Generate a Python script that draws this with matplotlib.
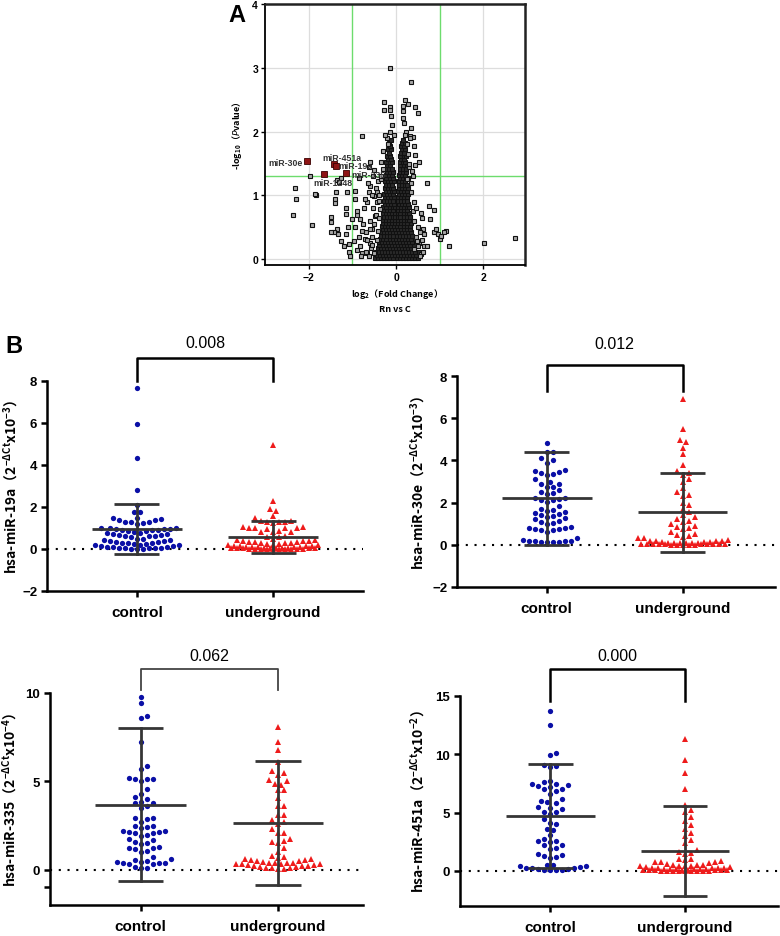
import numpy as np
import matplotlib
matplotlib.use('Agg')
import matplotlib.pyplot as plt

plt.rcParams['font.family'] = ['Liberation Sans', 'Noto Sans CJK SC', 'DejaVu Sans']
plt.rcParams['mathtext.default'] = 'regular'

CJK = ['Noto Sans CJK SC', 'DejaVu Sans']

# ---------------- panel A: volcano plot ----------------
# scattered points outside the dense core (log2 FC, -log10 P)
sparse_x = [-0.145, 0.35, -0.28, 0.21, 0.27, 0.43, 0.5, -0.14, -0.13, -0.27, -0.11,
            0.15, 0.16, 0.16, 0.18, 0.34, 0.39, 0.31, -0.78, 0.52, 0.71, -1.97,
            -2.32, -2.3, -2.35, -1.92, -1.84, -1.86, -1.36, -1.26, -1.3, -1.38,
            -1.4, -1.39, -1.48, -1.48, -1.36, -1.32, -1.12, -0.95, -0.85, -0.95,
            -1.14, -1.14, -1.0, -1.1, -1.14, -1.08, -1.08, -0.97, -1.06, -1.25,
            -1.2, -1.42, -1.48, -0.89, -0.82, -0.66, -0.74, -0.78, -0.72, -0.82,
            -0.79, -0.66, -0.6, -0.55, -0.49, -0.43, -0.6, -0.53,
            0.57, 0.59, 0.62, 0.54, 0.75, 0.77, 0.86, 0.86, 0.92, 0.97, 1.01,
            1.03, 1.15, 1.21, 1.09, 2.02, 2.71, 0.52, 0.63, 0.56, 0.42, 0.4,
            0.44, 0.25, 0.37, 0.3, 0.43,
            -0.3, -0.34, -0.5, -0.62, -0.42, -0.34, -0.59, -0.51, -0.43, -0.36, -0.62,
            -0.62, -0.7, -0.58, -0.66, -0.55, -0.5, -0.6, -0.45, -0.52, -0.4, -0.38,
            -0.46, -0.35, -0.4, -0.75, -0.85, -0.9, -0.8, -0.95, -0.7, -0.6, -0.55,
            -0.5, -0.44, -0.42, -0.9, -0.72, -0.55, -0.65,
            0.55, 0.62, 0.5, 0.6, 0.45, 0.5, 0.42, 0.38, 0.4, 0.35, 0.33, 0.3, 0.28,
            0.25, 0.7, 0.48, 0.65, 0.45, 0.38, 0.32, 0.22, 0.2,
            -0.2, -0.15, -0.1, -0.25, -0.3, -0.05, -0.18]
sparse_y = [3.0, 2.77, 2.47, 2.49, 2.44, 2.39, 2.29, 2.39, 2.34, 2.34, 2.25,
            2.4, 2.32, 2.21, 2.13, 2.06, 1.92, 1.93, 1.93, 1.53, 1.19, 1.31,
            1.11, 0.94, 0.7, 0.53, 1.0, 1.02, 1.24, 1.28, 1.21, 1.06,
            0.94, 0.88, 0.67, 0.59, 0.47, 0.4, 1.06, 1.07, 1.27, 0.94,
            0.81, 0.71, 0.63, 0.51, 0.4, 0.24, 0.12, 0.29, 0.05, 0.28,
            0.21, 0.42, 0.43, 0.69, 0.63, 0.89, 0.81, 0.44, 0.31, 0.21,
            0.1, 0.1, 0.26, 0.47, 0.68, 1.06, 1.53, 1.31,
            0.73, 0.65, 0.47, 0.42, 0.84, 0.63, 0.77, 0.43, 0.48, 0.39, 0.31,
            0.36, 0.45, 0.21, 0.43, 0.26, 0.33, 0.26, 0.21, 0.08, 0.16, 1.78,
            1.63, 1.25, 1.39, 1.44, 1.48,
            1.41, 1.52, 1.4, 1.44, 1.23, 1.25, 1.15, 0.99, 0.89, 0.78, 1.05,
            0.05, 0.12, 0.18, 0.3, 0.35, 0.55, 0.6, 0.7, 0.8, 0.92, 1.0,
            1.12, 1.3, 0.65, 0.55, 0.35, 0.15, 0.05, 0.5, 0.42, 0.48, 0.22,
            0.1, 0.3, 0.45, 0.75, 0.95, 1.0, 1.2,
            0.05, 0.12, 0.2, 0.3, 0.35, 0.5, 0.6, 0.75, 0.9, 1.05, 1.2, 1.5, 1.65,
            1.8, 0.2, 0.28, 0.4, 0.8, 1.3, 1.9, 2.0, 1.95,
            1.9, 2.0, 2.1, 1.95, 1.7, 1.95, 1.8]

# dense core, listed row by row: (-log10 P, [log2 FC ...])
core_rows = [
    (0.02, [-0.48, -0.41, -0.34, -0.27, -0.2, -0.13, -0.06, 0.01, 0.08, 0.15, 0.22, 0.29, 0.36, 0.43, 0.5]),
    (0.07, [-0.44, -0.37, -0.3, -0.23, -0.16, -0.09, -0.03, 0.04, 0.11, 0.18, 0.25, 0.32, 0.39, 0.46]),
    (0.12, [-0.47, -0.39, -0.32, -0.25, -0.18, -0.11, -0.05, 0.02, 0.09, 0.16, 0.23, 0.3, 0.37, 0.44, 0.52]),
    (0.17, [-0.42, -0.35, -0.28, -0.21, -0.14, -0.07, 0.0, 0.07, 0.14, 0.21, 0.28, 0.35, 0.42]),
    (0.22, [-0.38, -0.31, -0.24, -0.17, -0.1, -0.03, 0.04, 0.11, 0.18, 0.25, 0.32, 0.4]),
    (0.27, [-0.4, -0.33, -0.26, -0.19, -0.12, -0.05, 0.02, 0.09, 0.16, 0.23, 0.3, 0.37]),
    (0.32, [-0.36, -0.29, -0.22, -0.15, -0.08, -0.01, 0.06, 0.13, 0.2, 0.27, 0.34]),
    (0.37, [-0.34, -0.27, -0.2, -0.13, -0.06, 0.01, 0.08, 0.15, 0.22, 0.29, 0.36]),
    (0.42, [-0.35, -0.28, -0.21, -0.14, -0.07, 0.0, 0.07, 0.14, 0.21, 0.28, 0.33]),
    (0.47, [-0.31, -0.24, -0.17, -0.1, -0.03, 0.04, 0.11, 0.18, 0.25, 0.32]),
    (0.52, [-0.33, -0.26, -0.19, -0.12, -0.05, 0.03, 0.1, 0.17, 0.24, 0.31]),
    (0.57, [-0.3, -0.23, -0.16, -0.09, -0.02, 0.05, 0.12, 0.19, 0.26, 0.33]),
    (0.62, [-0.31, -0.24, -0.17, -0.1, -0.03, 0.04, 0.11, 0.18, 0.25, 0.3]),
    (0.67, [-0.28, -0.21, -0.14, -0.07, -0.02, 0.04, 0.1, 0.17, 0.24, 0.31]),
    (0.72, [-0.3, -0.23, -0.16, -0.09, -0.03, 0.04, 0.1, 0.17, 0.24, 0.29]),
    (0.77, [-0.27, -0.2, -0.13, -0.06, 0.05, 0.12, 0.19, 0.26]),
    (0.82, [-0.29, -0.22, -0.15, -0.08, -0.03, 0.04, 0.11, 0.18, 0.25, 0.3]),
    (0.87, [-0.26, -0.19, -0.12, -0.05, 0.06, 0.13, 0.2, 0.27]),
    (0.92, [-0.28, -0.21, -0.14, -0.07, 0.04, 0.11, 0.18, 0.25]),
    (0.97, [-0.25, -0.18, -0.11, -0.04, 0.05, 0.12, 0.19, 0.26]),
    (1.02, [-0.27, -0.2, -0.13, -0.06, 0.06, 0.13, 0.2, 0.27]),
    (1.07, [-0.24, -0.17, -0.1, -0.04, 0.05, 0.12, 0.19, 0.25]),
    (1.12, [-0.26, -0.19, -0.12, -0.06, 0.07, 0.14, 0.21, 0.27]),
    (1.17, [-0.23, -0.16, -0.09, 0.06, 0.13, 0.2, 0.26]),
    (1.22, [-0.25, -0.18, -0.11, -0.05, 0.07, 0.14, 0.21]),
    (1.27, [-0.22, -0.15, -0.08, 0.08, 0.15, 0.22, 0.28]),
    (1.32, [-0.24, -0.17, -0.1, 0.07, 0.14, 0.21]),
    (1.37, [-0.21, -0.14, -0.07, 0.09, 0.16, 0.23]),
    (1.42, [-0.23, -0.16, -0.09, 0.08, 0.15, 0.22]),
    (1.47, [-0.2, -0.13, 0.1, 0.17, 0.24]),
    (1.52, [-0.22, -0.15, -0.09, 0.09, 0.16, 0.21]),
    (1.57, [-0.18, -0.11, 0.11, 0.18]),
    (1.62, [-0.2, -0.13, 0.1, 0.17, 0.23]),
    (1.67, [-0.16, 0.12, 0.19]),
    (1.72, [-0.18, -0.11, 0.14, 0.2]),
    (1.77, [-0.14, 0.11, 0.17]),
    (1.82, [-0.16, 0.13, 0.2]),
    (1.87, [-0.12, 0.15]),
]

hit_names = ['miR-30e', 'miR-451a', 'miR-19a', 'miR-335', 'miR-1248']
hit_x = [-2.03, -1.42, -1.37, -1.15, -1.64]
hit_y = [1.54, 1.5, 1.46, 1.35, 1.33]

# ---------------- panel B: scatter dot plots ----------------
groups = ['control', 'underground']
pvalues = ['0.008', '0.012', '0.062', '0.000']

mir19a_control = [7.65, 5.95, 4.35, 2.82, 2.1, 1.75, 1.75, 1.5, 1.5, 1.45, 1.4, 1.4, 1.3, 1.3,
                  1.3, 1.25, 1.2, 1.0, 1.0, 0.98, 0.95, 0.95, 0.95, 0.9, 0.9, 0.9, 0.85, 0.85,
                  0.8, 0.75, 0.75, 0.7, 0.7, 0.65, 0.65, 0.62, 0.6, 0.6, 0.55, 0.5, 0.5, 0.45,
                  0.45, 0.4, 0.4, 0.35, 0.35, 0.3, 0.3, 0.3, 0.25, 0.25, 0.2, 0.2, 0.2, 0.15,
                  0.15, 0.1, 0.1, 0.1, 0.05, 0.05, 0.05, 0.05, 0.03, 0.02, 0.02, 0.01]
mir19a_under = [4.95, 2.27, 1.9, 1.83, 1.56, 1.5, 1.35, 1.32, 1.3, 1.3, 1.28, 1.25, 1.05, 1.05,
                1.02, 1.0, 1.0, 0.98, 0.95, 0.85, 0.83, 0.8, 0.8, 0.6, 0.58, 0.55, 0.5, 0.45,
                0.42, 0.4, 0.4, 0.38, 0.35, 0.35, 0.33, 0.3, 0.3, 0.28, 0.25, 0.22, 0.2, 0.2,
                0.18, 0.15, 0.15, 0.12, 0.12, 0.1, 0.1, 0.1, 0.08, 0.08, 0.07, 0.06, 0.05,
                0.05, 0.05, 0.04, 0.04, 0.03, 0.03, 0.03, 0.02, 0.02, 0.02, 0.01, 0.01, 0.01,
                0.01, 0.0, 0.0, 0.0]
mir30e_control = [4.82, 4.4, 4.4, 4.1, 4.0, 3.9, 3.55, 3.5, 3.45, 3.4, 3.35, 3.3, 3.1, 3.0, 2.9,
                  2.9, 2.75, 2.75, 2.6, 2.5, 2.45, 2.4, 2.2, 2.2, 2.15, 2.1, 2.1, 2.05, 1.85,
                  1.7, 1.65, 1.6, 1.55, 1.5, 1.45, 1.4, 1.35, 1.3, 1.25, 1.2, 1.15, 1.1, 1.05,
                  1.0, 0.85, 0.8, 0.8, 0.75, 0.75, 0.7, 0.7, 0.6, 0.3, 0.25, 0.2, 0.2, 0.2,
                  0.18, 0.15, 0.15, 0.15, 0.12]
mir30e_under = [6.9, 5.5, 4.95, 4.85, 4.6, 4.3, 3.8, 3.5, 3.4, 3.3, 3.1, 3.0, 2.7, 2.5, 2.35,
                2.3, 2.0, 1.9, 1.7, 1.55, 1.4, 1.3, 1.2, 1.15, 1.1, 1.0, 0.9, 0.85, 0.8, 0.75,
                0.6, 0.5, 0.45, 0.4, 0.35, 0.3, 0.3, 0.25, 0.2, 0.2, 0.2, 0.18, 0.15, 0.15,
                0.12, 0.1, 0.1, 0.1, 0.08, 0.08, 0.07, 0.06, 0.05, 0.05, 0.05, 0.04, 0.03,
                0.03, 0.02, 0.02, 0.02, 0.01, 0.01, 0.0, 0.0, 0.0]
mir335_control = [9.8, 9.45, 8.7, 8.6, 7.25, 5.85, 5.7, 5.2, 5.15, 5.15, 5.15, 5.0, 4.55, 4.3,
                  4.1, 4.0, 3.85, 3.8, 3.75, 3.6, 3.5, 2.95, 2.9, 2.85, 2.7, 2.5, 2.5, 2.4,
                  2.35, 2.2, 2.2, 2.15, 2.15, 2.1, 2.05, 1.95, 1.9, 1.75, 1.7, 1.55, 1.5, 1.45,
                  1.3, 1.25, 1.2, 1.15, 1.05, 1.0, 0.7, 0.6, 0.55, 0.5, 0.45, 0.45, 0.4, 0.4,
                  0.35, 0.3, 0.3, 0.15, 0.12, 0.1]
mir335_under = [8.05, 7.2, 6.8, 6.1, 5.6, 5.45, 5.35, 5.05, 5.0, 4.85, 4.8, 4.5, 4.5, 4.05,
                3.6, 3.6, 3.1, 3.1, 2.8, 2.7, 2.6, 2.3, 2.1, 2.05, 1.75, 1.6, 1.55, 1.5, 1.25,
                1.0, 0.75, 0.7, 0.65, 0.6, 0.6, 0.55, 0.55, 0.5, 0.5, 0.45, 0.4, 0.4, 0.35,
                0.35, 0.3, 0.3, 0.3, 0.3, 0.25, 0.25, 0.2, 0.2, 0.2, 0.15, 0.15, 0.1, 0.1,
                0.1, 0.05, 0.05]
mir451a_control = [13.7, 12.5, 10.1, 9.95, 9.1, 9.0, 8.95, 7.75, 7.6, 7.5, 7.45, 7.35, 7.3, 7.2,
                   7.05, 7.0, 6.9, 6.6, 6.15, 6.0, 5.9, 5.8, 5.5, 5.4, 5.3, 5.1, 5.05, 4.85,
                   4.5, 4.1, 4.0, 3.6, 3.55, 3.1, 2.75, 2.6, 2.55, 2.45, 2.25, 2.2, 2.0, 1.9,
                   1.45, 1.35, 1.25, 1.2, 1.1, 0.55, 0.5, 0.45, 0.4, 0.35, 0.3, 0.3, 0.25, 0.2,
                   0.15, 0.1, 0.1, 0.05, 0.05]
mir451a_under = [11.3, 9.5, 8.4, 7.0, 5.7, 5.2, 5.1, 4.6, 4.3, 3.95, 3.6, 3.3, 3.0, 2.7, 2.4,
                 1.8, 1.6, 1.55, 1.5, 1.0, 1.0, 0.95, 0.85, 0.8, 0.8, 0.75, 0.7, 0.6, 0.55,
                 0.5, 0.5, 0.45, 0.45, 0.4, 0.4, 0.35, 0.35, 0.3, 0.3, 0.3, 0.25, 0.25, 0.2,
                 0.2, 0.2, 0.15, 0.15, 0.15, 0.1, 0.1, 0.1, 0.1, 0.08, 0.05, 0.05, 0.05, 0.03,
                 0.03, 0.02, 0.02, 0.01, 0.01, 0.0, 0.0, 0.0]

# mean and SD: (control, underground)
means = [(0.95, 0.58), (2.2, 1.55), (3.68, 2.64), (4.72, 1.74)]
sds = [(1.21, 0.77), (2.21, 1.87), (4.34, 3.5), (4.44, 3.87)]

ylabels = ['hsa-miR-19a（$2^{-ΔCt}$x10$^{-3}$）',
           'hsa-miR-30e（$2^{-ΔCt}$x10$^{-3}$）',
           'hsa-miR-335（$2^{-ΔCt}$x10$^{-4}$）',
           'hsa-miR-451a（$2^{-ΔCt}$x10$^{-2}$）']

BLUE = '#0a0fa6'
RED = '#ee1b1b'
BAR = '#353535'

fig = plt.figure(figsize=(7.8, 9.37), dpi=100)


def px_rect(left, top, right, bottom):
    W, H = 780, 937
    return [left / W, 1 - bottom / H, (right - left) / W, (bottom - top) / H]


# ---------- volcano ----------
axA = fig.add_axes(px_rect(265, 5, 525, 266))
axA.set_xlim(-3, 2.95)
axA.set_ylim(-0.09, 4)
for gx in (-2, 0, 2):
    axA.axvline(gx, color='#dddddd', lw=0.9, zorder=0)
for gy in (0, 1, 2, 3):
    axA.axhline(gy, color='#dddddd', lw=0.9, zorder=0)
axA.axvline(-1, color='#6ddc6d', lw=1.0, zorder=1)
axA.axvline(1, color='#6ddc6d', lw=1.0, zorder=1)
axA.axhline(1.3, color='#6ddc6d', lw=1.0, zorder=1)

core_x = [x for y, xs in core_rows for x in xs]
core_y = [y for y, xs in core_rows for x in xs]
axA.plot(core_x, core_y, ls='none', marker='s', ms=2.7, mfc='#2a2a2a', mec='#111111',
         mew=0.8, zorder=2)
axA.plot(sparse_x, sparse_y, ls='none', marker='s', ms=2.5, mfc='#a8a8a8', mec='#111111',
         mew=0.8, zorder=2)
axA.plot(hit_x, hit_y, ls='none', marker='s', ms=4.2, mfc='#8e1414', mec='#3a0000',
         mew=0.6, zorder=3)

lab = dict(fontsize=6.3, fontweight='bold', color='#333333', zorder=4)
axA.text(-2.14, 1.52, hit_names[0], ha='right', va='center', **lab)
axA.text(-1.69, 1.6, hit_names[1], ha='left', va='center', **lab)
axA.text(-1.31, 1.47, hit_names[2], ha='left', va='center', **lab)
axA.text(-1.03, 1.33, hit_names[3], ha='left', va='center', **lab)
axA.text(-1.9, 1.21, hit_names[4], ha='left', va='center', **lab)

for side in ('left', 'bottom'):
    axA.spines[side].set_linewidth(1.3)
    axA.spines[side].set_color('black')
for side in ('top', 'right'):
    axA.spines[side].set_linewidth(1.8)
    axA.spines[side].set_color('#222222')
axA.set_xticks([-2, 0, 2])
axA.set_yticks([0, 1, 2, 3, 4])
axA.tick_params(direction='out', length=3, width=1, labelsize=7.5, pad=2)
for t in axA.get_xticklabels() + axA.get_yticklabels():
    t.set_fontweight('bold')
axA.set_xlabel('log$_2$（Fold Change）\nRn vs C', family=CJK, fontsize=6.5,
               fontweight='bold', labelpad=3, linespacing=1.5)
axA.set_ylabel('-log$_{10}$（$\\it{P}$value）', family=CJK, fontsize=6.5,
               fontweight='bold', labelpad=6)
fig.text(237 / 780, 1 - 16 / 937, 'A', fontsize=17, fontweight='bold', ha='center', va='center')
fig.text(14 / 780, 1 - 347 / 937, 'B', fontsize=17, fontweight='bold', ha='center', va='center')


# ---------- dot plots ----------
def swarm_x(ax, values, center, spacing_px, half_width_px):
    """beeswarm offsets within +-half_width_px; when a row is full the point goes
    where it overlaps least"""
    yp = ax.transData.transform(np.column_stack([np.full(len(values), center),
                                                 values]))[:, 1]
    x0 = ax.transData.transform((center, 0))[0]
    step = spacing_px * 0.5
    n = int(half_width_px // step)
    cands = [0.0]
    for k in range(1, n + 1):
        cands += [k * step, -k * step]
    placed = []
    xs = np.zeros(len(values))
    for i in np.argsort(yp, kind='stable'):
        best, best_d = None, -1.0
        for off in cands:
            d = min([np.hypot(off - px, yp[i] - py) for px, py in placed] or [1e9])
            if d >= spacing_px * 0.99:
                best = off
                break
            if d > best_d:
                best, best_d = off, d
        placed.append((best, yp[i]))
        xs[i] = ax.transData.inverted().transform((x0 + best, yp[i]))[0]
    return xs


# labr = pixel x of the right edge of the rotated y label
panels = [
    dict(rect=px_rect(47, 382, 363, 592), ylim=(-2, 8), yticks=[-2, 0, 2, 4, 6, 8],
         minor=[], data=(mir19a_control, mir19a_under), br=(9.1, 8.0), pt=9.85,
         blw=1.8, bcol='black', xlim=(-0.66, 1.66), hw=(45, 45), labr=21),
    dict(rect=px_rect(457, 377, 775, 588), ylim=(-2, 8), yticks=[-2, 0, 2, 4, 6, 8],
         minor=[], data=(mir30e_control, mir30e_under), br=(8.52, 7.29), pt=9.55,
         blw=1.8, bcol='black', xlim=(-0.66, 1.68), hw=(34, 45), labr=428),
    dict(rect=px_rect(50, 694, 363, 906), ylim=(-2, 10), yticks=[0, 5, 10],
         minor=[-1], data=(mir335_control, mir335_under), br=(11.36, 10.17), pt=12.15,
         blw=1.3, bcol='#444444', xlim=(-0.66, 1.62), hw=(37, 45), labr=20),
    dict(rect=px_rect(460, 697, 778, 907), ylim=(-3, 15), yticks=[0, 5, 10, 15],
         minor=[], data=(mir451a_control, mir451a_under), br=(17.3, 14.57), pt=18.45,
         blw=1.8, bcol='black', xlim=(-0.67, 1.69), hw=(40, 45), labr=428),
]

for k, p in enumerate(panels):
    ax = fig.add_axes(p['rect'])
    ax.set_xlim(*p['xlim'])
    ax.set_ylim(*p['ylim'])
    for side in ('top', 'right'):
        ax.spines[side].set_visible(False)
    for side in ('left', 'bottom'):
        ax.spines[side].set_linewidth(1.8)
    ax.set_yticks(p['yticks'])
    ax.set_yticks(p['minor'], minor=True)
    ax.set_xticks([0, 1])
    ax.set_xticklabels(groups)
    ax.tick_params(which='both', direction='out', length=4, width=1.8, labelsize=9.5, pad=3)
    ax.tick_params(axis='x', labelsize=11, pad=6)
    for t in ax.get_xticklabels() + ax.get_yticklabels():
        t.set_fontweight('bold')
    ax.set_ylabel(ylabels[k], family=CJK, fontsize=10, fontweight='bold')
    left_px = p['rect'][0] * 780
    ax.yaxis.set_label_coords((p['labr'] - left_px) / (p['rect'][2] * 780), 0.5)

    ax.axhline(0, color='black', lw=1.5, ls=(0, (1, 3.2)), zorder=1)

    for g, (vals, color, marker, ms) in enumerate(zip(p['data'], (BLUE, RED), ('o', '^'),
                                                      (3.8, 4.2))):
        xs = swarm_x(ax, vals, g, 6.0, p['hw'][g])
        ax.plot(xs, vals, ls='none', marker=marker, ms=ms, color=color, mew=0,
                zorder=2, clip_on=False)
        m, s = means[k][g], sds[k][g]
        ax.plot([g - 0.33, g + 0.33], [m, m], color=BAR, lw=2, zorder=3, solid_capstyle='butt')
        ax.plot([g, g], [m - s, m + s], color=BAR, lw=2, zorder=3)
        for yy in (m - s, m + s):
            ax.plot([g - 0.165, g + 0.165], [yy, yy], color=BAR, lw=2, zorder=3,
                    solid_capstyle='butt')

    top, leg = p['br']
    ax.plot([0, 0, 1, 1], [leg, top, top, leg], color=p['bcol'], lw=p['blw'],
            clip_on=False, zorder=4)
    ax.text(0.5, p['pt'], pvalues[k], ha='center', va='center', fontsize=11.5,
            clip_on=False)

fig.savefig('out.png', dpi=100)
